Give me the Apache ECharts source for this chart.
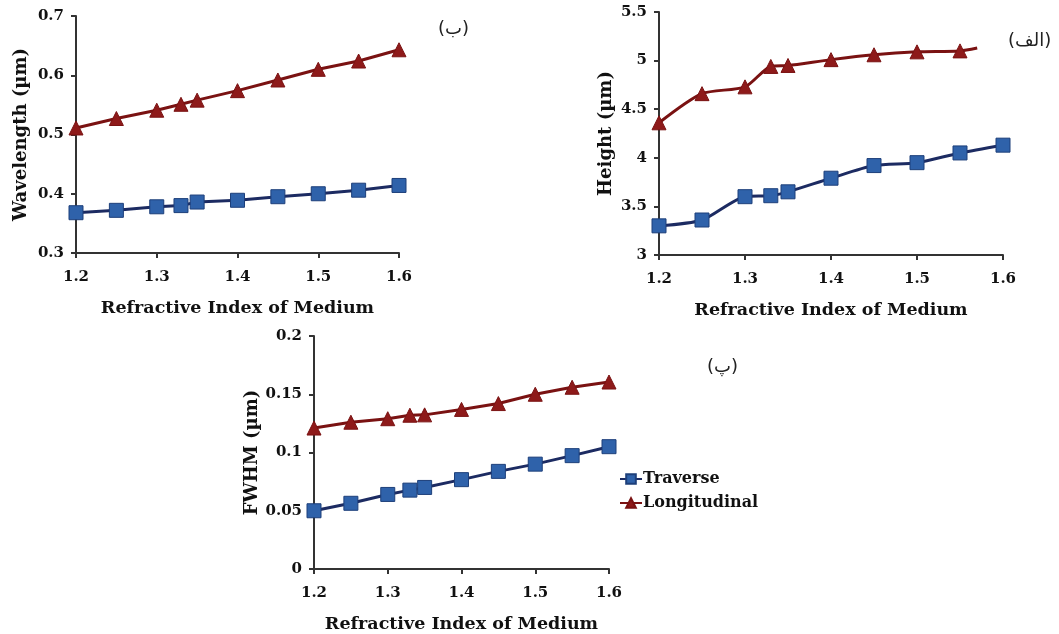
<!DOCTYPE html>
<html>
<head>
<meta charset="utf-8">
<script src="https://cdn.jsdelivr.net/npm/echarts@6/dist/echarts.min.js"></script>
<style>
  html, body { margin: 0; padding: 0; background: #fff; }
  #chart { width: 1059px; height: 634px; }
</style>
</head>
<body>
<div id="chart"></div>
<script>
// refractive index of medium (x values, shared)
const xValues = [1.2, 1.25, 1.3, 1.33, 1.35, 1.4, 1.45, 1.5, 1.55, 1.6];

// (ب) wavelength
const waveTraverse = [0.368, 0.372, 0.378, 0.380, 0.386, 0.389, 0.395, 0.400, 0.406, 0.414];
const waveLongitudinal = [0.511, 0.527, 0.541, 0.551, 0.558, 0.574, 0.592, 0.610, 0.624, 0.643];

// (الف) height
const heightTraverse = [3.30, 3.36, 3.60, 3.61, 3.65, 3.79, 3.92, 3.95, 4.05, 4.13];
const heightLongX = [1.2, 1.25, 1.3, 1.33, 1.35, 1.4, 1.45, 1.5, 1.55, 1.57];
const heightLongitudinal = [4.36, 4.66, 4.73, 4.94, 4.95, 5.01, 5.06, 5.09, 5.10, 5.13];

// (پ) FWHM
const fwhmTraverse = [0.050, 0.0564, 0.064, 0.0677, 0.070, 0.0767, 0.0838, 0.090, 0.0973, 0.105];
const fwhmLongitudinal = [0.121, 0.126, 0.129, 0.132, 0.1323, 0.137, 0.142, 0.150, 0.156, 0.1605];

const panelLabels = ['(ب)', '(الف)', '(پ)'];
const xTitle = 'Refractive Index of Medium';
const yTitles = ['Wavelength (µm)', 'Height (µm)', 'FWHM (µm)'];

const serif = '"DejaVu Serif", "Liberation Serif", serif';
const navy = '#1c2b62';
const blue = '#2f62aa';
const red = '#7a1212';

function pairs(xs, ys) {
    return ys.map((v, i) => [xs[i], v]);
}

function xAxisOf(grid) {
    return {
        gridIndex: grid, type: 'value', min: 1.2, max: 1.6, interval: 0.1,
        axisLine: { show: true, lineStyle: { color: '#333', width: 2 } },
        axisTick: { show: true, length: 5, lineStyle: { color: '#333', width: 2 } },
        splitLine: { show: false },
        axisLabel: { margin: 17, color: '#111', fontFamily: serif, fontWeight: 'bold', fontSize: 15,
            formatter: v => v.toFixed(1) },
        name: xTitle, nameLocation: 'middle', nameGap: 46,
        nameTextStyle: { color: '#111', fontFamily: serif, fontWeight: 'bold', fontSize: 17.5 }
    };
}

function yAxisOf(grid, min, max, interval, title, digits, gap) {
    return {
        gridIndex: grid, type: 'value', min: min, max: max, interval: interval,
        axisLine: { show: true, lineStyle: { color: '#333', width: 2 } },
        axisTick: { show: true, length: 5, lineStyle: { color: '#333', width: 2 } },
        splitLine: { show: false },
        axisLabel: { margin: 12, color: '#111', fontFamily: serif, fontWeight: 'bold', fontSize: 15,
            formatter: v => digits(v) },
        name: title, nameLocation: 'middle', nameGap: gap,
        nameTextStyle: { color: '#111', fontFamily: serif, fontWeight: 'bold', fontSize: 18 }
    };
}

function trim(v) { return String(+v.toFixed(2)); }

function traverse(grid, data, smooth) {
    return {
        name: 'Traverse', type: 'line', xAxisIndex: grid, yAxisIndex: grid,
        data: data, smooth: smooth, symbol: 'rect', symbolSize: 14,
        lineStyle: { color: navy, width: 3 },
        itemStyle: { color: blue, borderColor: '#1d3f7a', borderWidth: 1 }
    };
}

function longitudinal(grid, data, smooth) {
    return {
        name: 'Longitudinal', type: 'line', xAxisIndex: grid, yAxisIndex: grid,
        data: data, smooth: smooth, symbol: 'triangle', symbolSize: 14,
        lineStyle: { color: red, width: 3 },
        itemStyle: { color: '#8e1a1a', borderColor: red, borderWidth: 1 }
    };
}

const heightLongData = pairs(heightLongX, heightLongitudinal);
// the last point only continues the line (cut at the edge in the picture)
heightLongData[heightLongData.length - 1] = { value: heightLongData[heightLongData.length - 1], symbol: 'none' };

let option = {
    animation: false,
    backgroundColor: '#fff',
    grid: [
        { left: 76, top: 16, width: 323, height: 237 },
        { left: 659, top: 12, width: 344, height: 243 },
        { left: 314, top: 336, width: 295, height: 236 }
    ],
    xAxis: [xAxisOf(0), xAxisOf(1), xAxisOf(2)],
    yAxis: [
        yAxisOf(0, 0.3, 0.7, 0.1, yTitles[0], v => v.toFixed(1), 46),
        yAxisOf(1, 3, 5.5, 0.5, yTitles[1], trim, 44),
        yAxisOf(2, 0, 0.2, 0.05, yTitles[2], trim, 44)
    ],
    legend: {
        data: ['Traverse', 'Longitudinal'],
        orient: 'vertical', left: 614, top: 466, itemGap: 8,
        itemWidth: 22, itemHeight: 12,
        textStyle: { color: '#111', fontFamily: serif, fontWeight: 'bold', fontSize: 16, padding: [0, 0, 0, -4] }
    },
    graphic: [
        { type: 'text', left: 438, top: 20, style: { text: panelLabels[0], font: '18px "DejaVu Sans"', fill: '#222' } },
        { type: 'text', left: 1008, top: 32, style: { text: panelLabels[1], font: '18px "DejaVu Sans"', fill: '#222' } },
        { type: 'text', left: 707, top: 358, style: { text: panelLabels[2], font: '18px "DejaVu Sans"', fill: '#222' } }
    ],
    series: [
        traverse(0, pairs(xValues, waveTraverse), false),
        longitudinal(0, pairs(xValues, waveLongitudinal), false),
        traverse(1, pairs(xValues, heightTraverse), 0.25),
        longitudinal(1, heightLongData, 0.25),
        traverse(2, pairs(xValues, fwhmTraverse), false),
        longitudinal(2, pairs(xValues, fwhmLongitudinal), false)
    ]
};

let chartDom = document.getElementById('chart');
let myChart = echarts.init(chartDom);
myChart.setOption(option);
</script>
</body>
</html>
